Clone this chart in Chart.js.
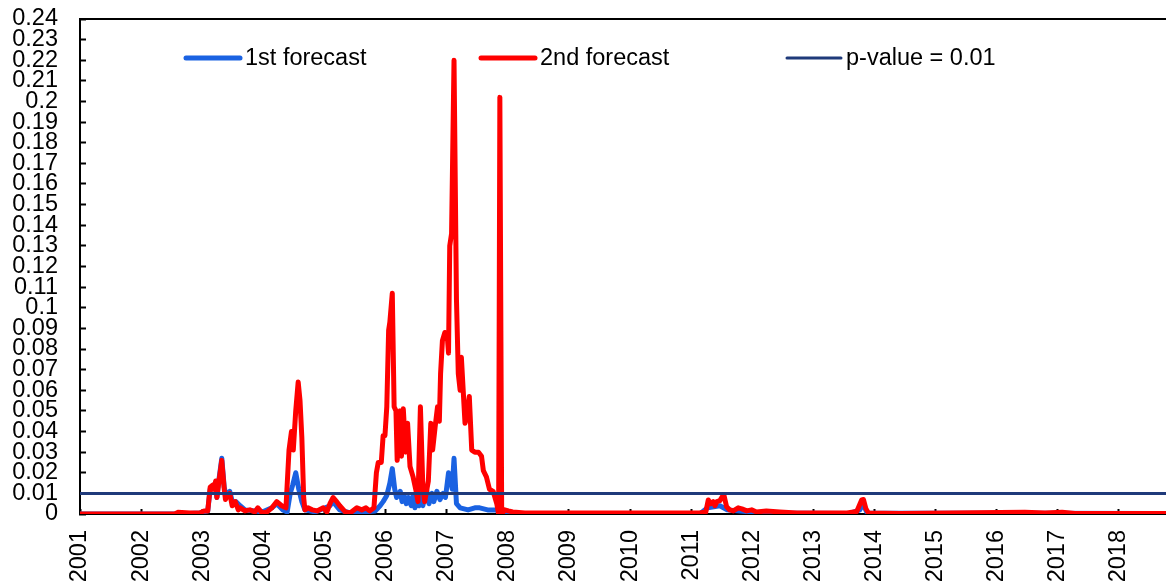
<!DOCTYPE html>
<html>
<head>
<meta charset="utf-8">
<script src="https://cdn.jsdelivr.net/npm/chart.js@4/dist/chart.umd.min.js"></script>
<style>
    html, body { margin: 0; padding: 0; background: #fff; }
    canvas { display: block; }
</style>
</head>
<body>
<canvas id="pvalueChart" width="1166" height="585"></canvas>
<script>
// p-values of the two forecasts (decimal years)
const yearTicks = [2001, 2002, 2003, 2004, 2005, 2006, 2007, 2008, 2009,
    2010, 2011, 2012, 2013, 2014, 2015, 2016, 2017, 2018];
const xStart = 2001;
const xEnd = 2018.77;
const pValue = 0.01;

const firstYears = [
    2001.00, 2002.60, 2002.96, 2003.09, 2003.13, 2003.17, 2003.22, 2003.24,
    2003.27, 2003.32, 2003.36, 2003.39, 2003.45, 2003.50, 2003.55, 2003.62,
    2003.70, 2003.86, 2003.98, 2004.14, 2004.22, 2004.32, 2004.39, 2004.44,
    2004.48, 2004.53, 2004.58, 2004.63, 2004.68, 2004.85, 2005.09, 2005.14,
    2005.25, 2005.42, 2005.66, 2005.83, 2005.91, 2005.96, 2006.02, 2006.07,
    2006.11, 2006.15, 2006.18, 2006.24, 2006.27, 2006.30, 2006.34, 2006.37,
    2006.42, 2006.45, 2006.48, 2006.51, 2006.55, 2006.58, 2006.61, 2006.67,
    2006.71, 2006.76, 2006.79, 2006.84, 2006.89, 2006.94, 2006.98, 2007.03,
    2007.06, 2007.09, 2007.12, 2007.16, 2007.22, 2007.35, 2007.46, 2007.54,
    2007.67, 2007.81, 2007.90, 2008.20, 2011.14, 2011.27, 2011.47, 2011.59,
    2011.80, 2012.13, 2013.60, 2013.76, 2013.81, 2013.88, 2018.77,
];
const firstValues = [
    0, 0, 0.0005, 0.0015, 0.012, 0.013, 0.015, 0.008,
    0.016, 0.027, 0.013, 0.009, 0.011, 0.005, 0.006, 0.004,
    0.002, 0.0015, 0.001, 0.003, 0.005, 0.002, 0.001, 0.010,
    0.014, 0.020, 0.012, 0.006, 0.002, 0.001, 0.004, 0.006,
    0.002, 0.0005, 0.001, 0.0015, 0.004, 0.006, 0.009, 0.015,
    0.022, 0.012, 0.008, 0.011, 0.006, 0.009, 0.005, 0.008,
    0.004, 0.009, 0.003, 0.008, 0.004, 0.010, 0.004, 0.012,
    0.005, 0.010, 0.006, 0.011, 0.007, 0.010, 0.008, 0.020,
    0.018, 0.012, 0.027, 0.005, 0.003, 0.002, 0.003, 0.003,
    0.002, 0.002, 0, 0.0003, 0, 0.003, 0.004, 0.002,
    0.0015, 0.0005, 0.0003, 0.002, 0.005, 0.0005, 0.0002,
];

const secondYears = [
    2001.00, 2002.55, 2002.60, 2002.80, 2002.96, 2003.03, 2003.09, 2003.13,
    2003.17, 2003.19, 2003.22, 2003.24, 2003.27, 2003.32, 2003.36, 2003.38,
    2003.41, 2003.45, 2003.49, 2003.54, 2003.59, 2003.62, 2003.70, 2003.78,
    2003.86, 2003.91, 2003.98, 2004.06, 2004.14, 2004.22, 2004.30, 2004.37,
    2004.42, 2004.46, 2004.49, 2004.53, 2004.57, 2004.60, 2004.63, 2004.66,
    2004.68, 2004.73, 2004.80, 2004.88, 2004.98, 2005.04, 2005.09, 2005.14,
    2005.20, 2005.25, 2005.34, 2005.42, 2005.53, 2005.61, 2005.68, 2005.74,
    2005.81, 2005.85, 2005.88, 2005.93, 2005.96, 2005.99, 2006.02, 2006.05,
    2006.07, 2006.11, 2006.14, 2006.17, 2006.19, 2006.24, 2006.26, 2006.29,
    2006.33, 2006.36, 2006.40, 2006.45, 2006.50, 2006.53, 2006.57, 2006.61,
    2006.64, 2006.70, 2006.74, 2006.77, 2006.81, 2006.85, 2006.88, 2006.90,
    2006.93, 2006.97, 2007.01, 2007.03, 2007.05, 2007.08, 2007.12, 2007.16,
    2007.19, 2007.22, 2007.24, 2007.27, 2007.30, 2007.32, 2007.37, 2007.41,
    2007.46, 2007.52, 2007.57, 2007.60, 2007.65, 2007.70, 2007.76, 2007.82,
    2007.85, 2007.87, 2007.90, 2007.95, 2008.01, 2008.08, 2008.28, 2011.14,
    2011.24, 2011.28, 2011.32, 2011.36, 2011.39, 2011.42, 2011.47, 2011.51,
    2011.54, 2011.58, 2011.63, 2011.69, 2011.77, 2011.83, 2011.91, 2011.99,
    2012.07, 2012.23, 2012.45, 2012.73, 2013.55, 2013.71, 2013.79, 2013.82,
    2013.86, 2013.90, 2014.42, 2016.46, 2016.79, 2017.07, 2017.28, 2018.77,
];
const secondValues = [
    0, 0, 0.0008, 0.0005, 0.0005, 0.0015, 0.0015, 0.013,
    0.014, 0.012, 0.016, 0.008, 0.015, 0.026, 0.012, 0.007,
    0.009, 0.010, 0.004, 0.006, 0.002, 0.003, 0.0015, 0.002,
    0.001, 0.003, 0.0005, 0.001, 0.003, 0.006, 0.004, 0.003,
    0.031, 0.040, 0.031, 0.050, 0.064, 0.055, 0.037, 0.008,
    0.002, 0.003, 0.002, 0.0015, 0.003, 0.001, 0.005, 0.008,
    0.006, 0.004, 0.001, 0.0005, 0.003, 0.002, 0.003, 0.0015,
    0.003, 0.020, 0.025, 0.025, 0.038, 0.038, 0.052, 0.089,
    0.093, 0.107, 0.052, 0.050, 0.026, 0.050, 0.028, 0.051,
    0.030, 0.044, 0.023, 0.018, 0.011, 0.006, 0.052, 0.013,
    0.006, 0.016, 0.044, 0.031, 0.042, 0.052, 0.045, 0.068,
    0.084, 0.088, 0.086, 0.078, 0.130, 0.136, 0.220, 0.104,
    0.068, 0.060, 0.076, 0.060, 0.044, 0.046, 0.057, 0.031,
    0.030, 0.030, 0.028, 0.021, 0.018, 0.012, 0.011, 0.005,
    0, 0.202, 0, 0.002, 0.0015, 0.001, 0.0005, 0.0005,
    0.001, 0.0068, 0.005, 0.006, 0.004, 0.006, 0.0065, 0.0084,
    0.0087, 0.0035, 0.002, 0.0015, 0.003, 0.0025, 0.0015, 0.002,
    0.001, 0.0015, 0.001, 0.0005, 0.0005, 0.0012, 0.0068, 0.007,
    0.0025, 0.0005, 0.0003, 0.0008, 0.0005, 0.0008, 0.0003, 0.0003,
];

const toPoints = (xs, ys) => xs.map((x, i) => ({ x: x, y: ys[i] }));

const fontFamily = "'Liberation Sans', Arial, sans-serif";
const fontSize = 23.5;

// legend sits inside the plot, Excel style
const insideLegend = {
    id: "insideLegend",
    afterDraw(chart) {
        const c = chart.ctx;
        const starts = [186, 481, 787];
        const y = 58;
        c.save();
        c.font = fontSize + "px " + fontFamily;
        c.textBaseline = "middle";
        c.textAlign = "left";
        chart.data.datasets.forEach((ds, i) => {
            const x = starts[i];
            c.strokeStyle = ds.borderColor;
            c.lineWidth = ds.borderWidth;
            c.lineCap = "round";
            c.beginPath();
            c.moveTo(x, y);
            c.lineTo(x + 54, y);
            c.stroke();
            c.fillStyle = "#000";
            c.fillText(ds.label, x + 59, y + 1);
        });
        c.restore();
    },
};

// black frame line along the top of the plot area
const topBorder = {
    id: "topBorder",
    beforeDatasetsDraw(chart) {
        const a = chart.chartArea;
        const c = chart.ctx;
        c.save();
        c.strokeStyle = "#000";
        c.lineWidth = 2;
        c.beginPath();
        c.moveTo(a.left - 1, a.top);
        c.lineTo(a.right, a.top);
        c.stroke();
        c.restore();
    },
};

const ctx = document.getElementById("pvalueChart");

new Chart(ctx, {
    type: "line",
    data: {
        datasets: [
            {
                label: "1st forecast",
                data: toPoints(firstYears, firstValues),
                borderColor: "#1a62e2",
                borderWidth: 5,
                order: 2,
            },
            {
                label: "2nd forecast",
                data: toPoints(secondYears, secondValues),
                borderColor: "#ff0000",
                borderWidth: 5,
                order: 1,
            },
            {
                label: "p-value = 0.01",
                data: [
                    { x: xStart, y: pValue },
                    { x: xEnd, y: pValue },
                ],
                borderColor: "#1f3a7a",
                borderWidth: 3,
                order: 0,
            },
        ],
    },
    options: {
        responsive: false,
        animation: false,
        events: [],
        layout: {
            padding: { top: 19, left: 0, right: 0, bottom: 0 },
        },
        elements: {
            point: { radius: 0 },
            line: {
                tension: 0,
                borderCapStyle: "round",
                borderJoinStyle: "round",
            },
        },
        plugins: {
            legend: { display: false },
            tooltip: { enabled: false },
        },
        scales: {
            x: {
                type: "linear",
                min: xStart,
                max: xEnd,
                afterBuildTicks: (s) => {
                    s.ticks = yearTicks.map((v) => ({ value: v }));
                },
                afterFit: (s) => {
                    s.height = 71;
                    s.paddingLeft = 0;
                    s.paddingRight = 0;
                },
                ticks: {
                    autoSkip: false,
                    minRotation: 90,
                    maxRotation: 90,
                    padding: 21,
                    color: "#000",
                    font: { family: fontFamily, size: fontSize },
                    callback: (v) => String(v),
                },
                grid: {
                    drawOnChartArea: false,
                    tickLength: -5,
                    tickWidth: 2,
                    tickColor: "#000",
                },
                border: { color: "#000", width: 2 },
            },
            y: {
                min: 0,
                max: 0.24,
                afterBuildTicks: (s) => {
                    const t = [];
                    for (let i = 0; i <= 24; i++) t.push({ value: i / 100 });
                    s.ticks = t;
                },
                afterFit: (s) => {
                    // fixed axis box, label overflow must not push the plot
                    s.width = 80;
                    s.paddingTop = 0;
                    s.paddingBottom = 0;
                },
                ticks: {
                    autoSkip: false,
                    padding: 28,
                    color: "#000",
                    font: { family: fontFamily, size: fontSize },
                    callback: (v) => String(+v.toFixed(2)),
                },
                grid: {
                    drawOnChartArea: false,
                    tickLength: -6,
                    tickWidth: 2,
                    tickColor: "#000",
                },
                border: { color: "#000", width: 2 },
            },
        },
    },
    plugins: [topBorder, insideLegend],
});
</script>
</body>
</html>
